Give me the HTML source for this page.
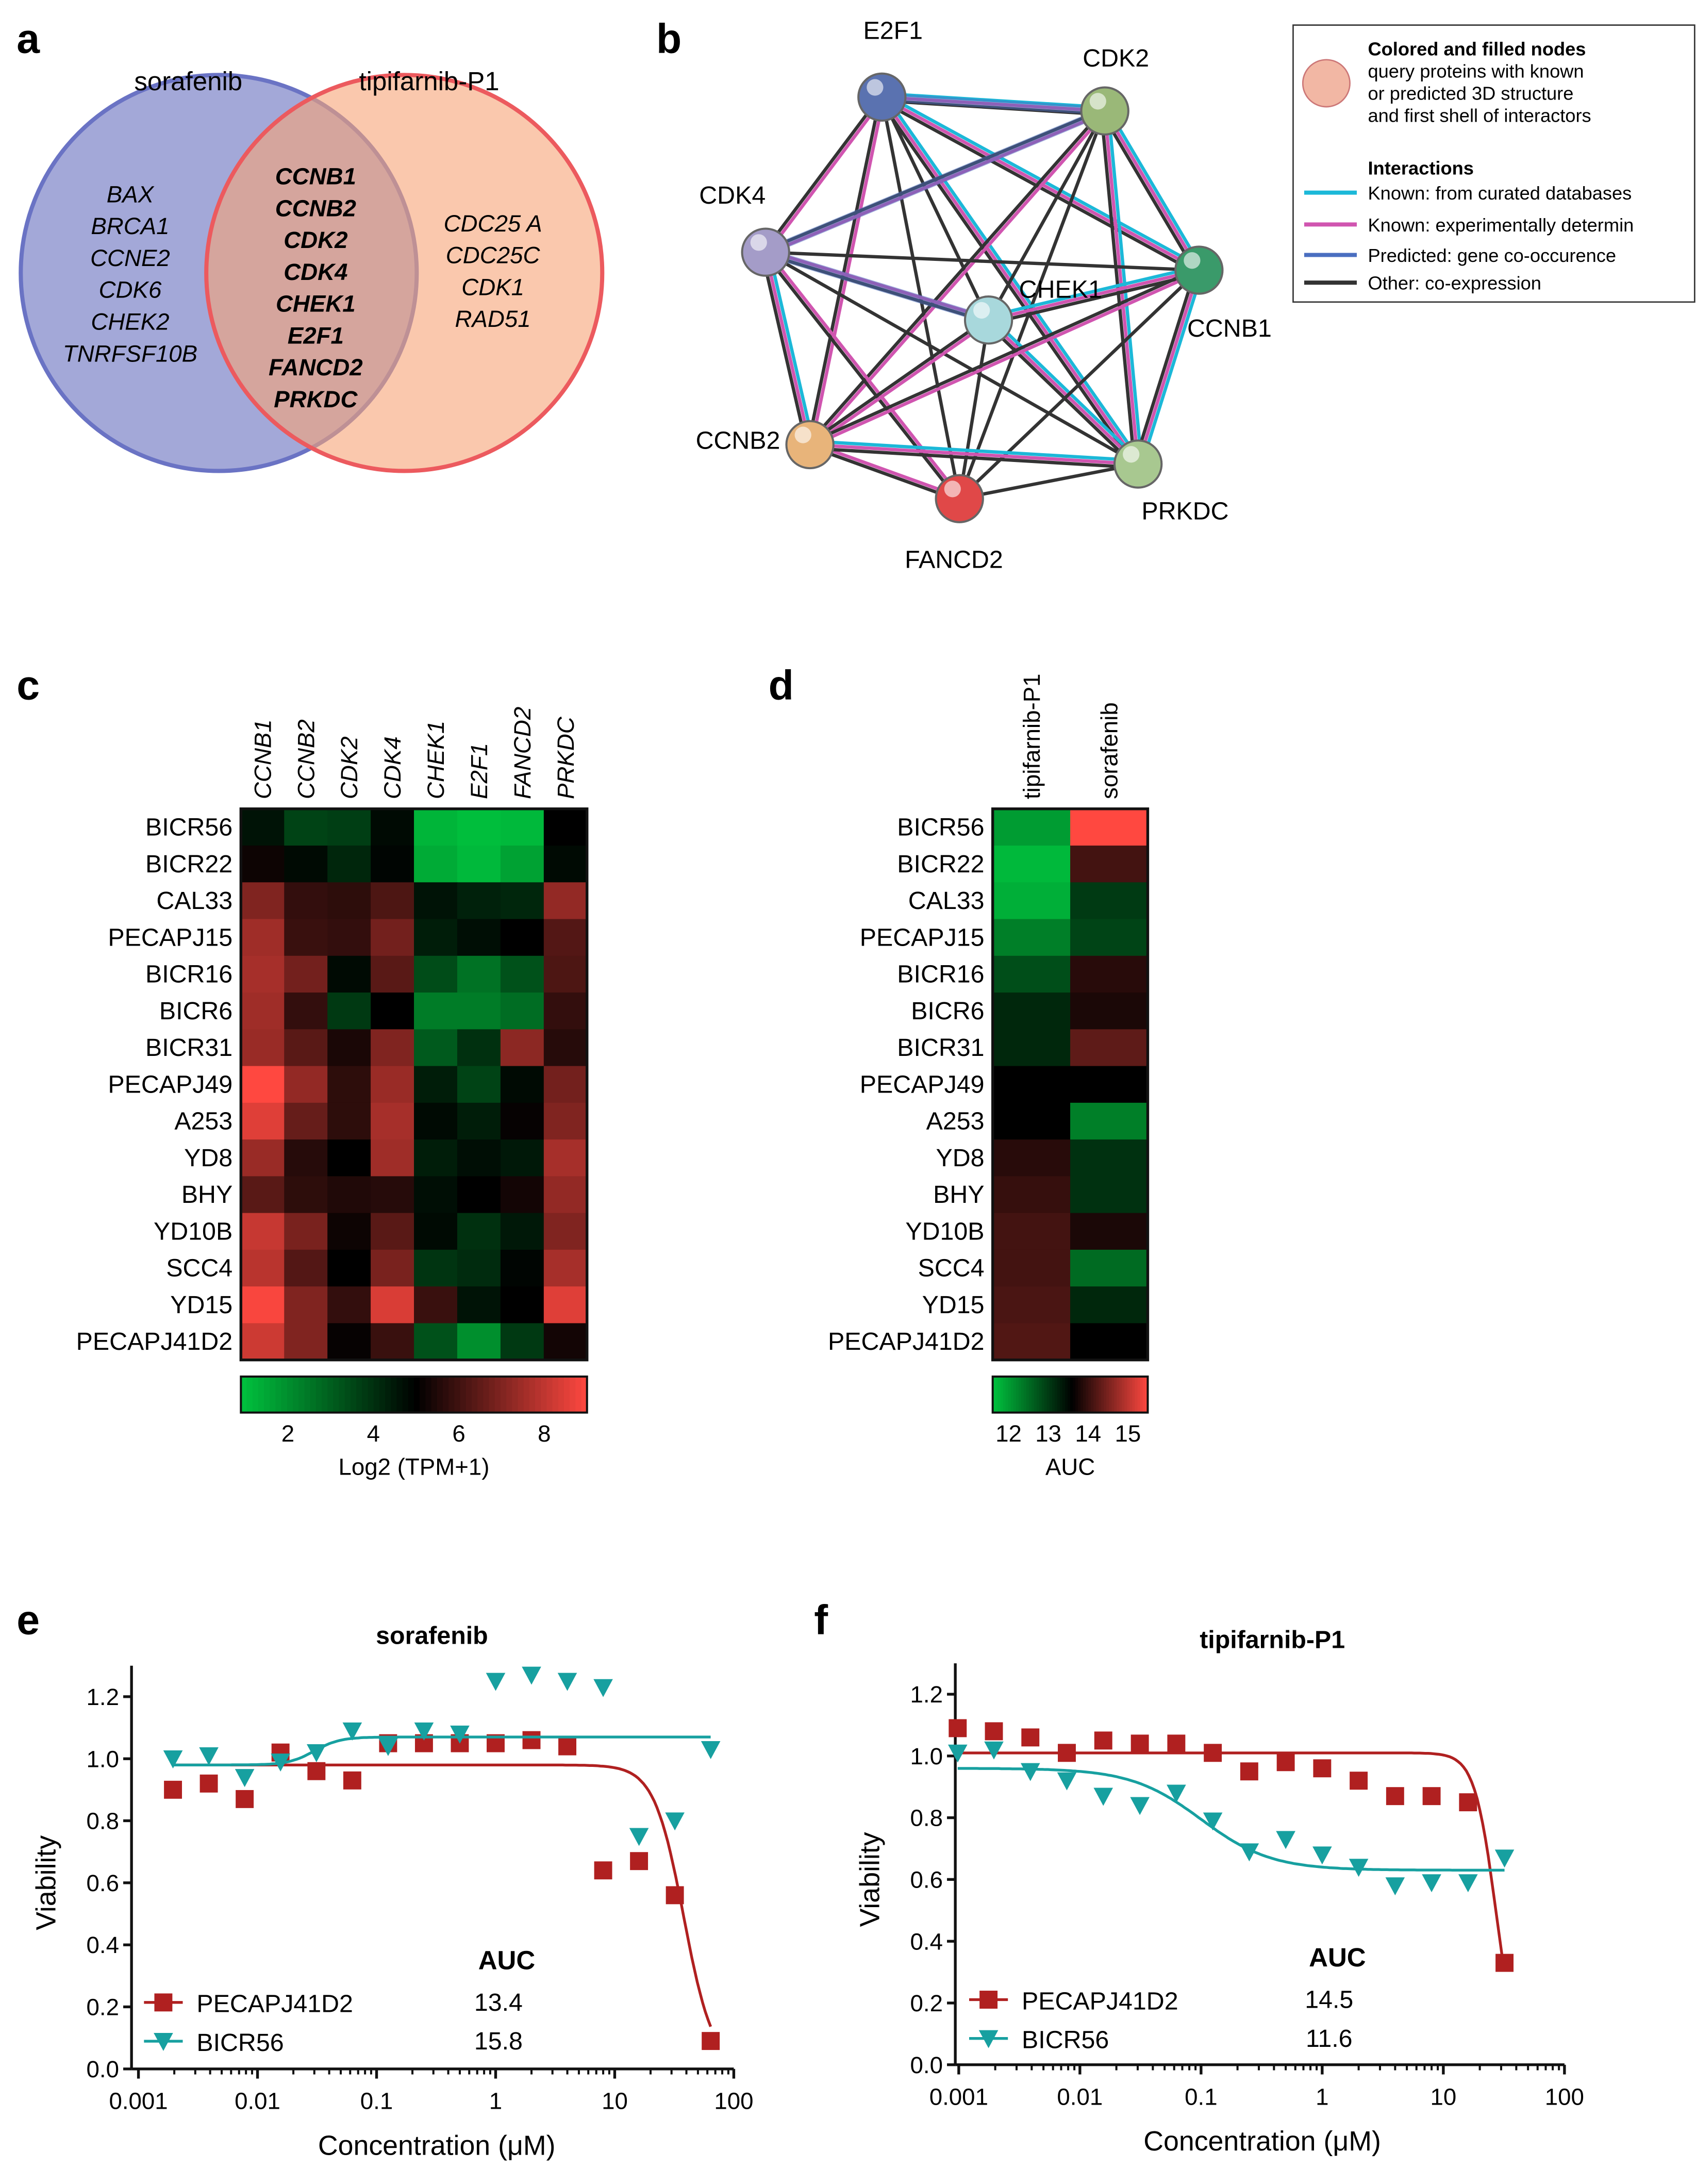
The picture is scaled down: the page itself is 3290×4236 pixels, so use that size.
<!DOCTYPE html>
<html><head><meta charset="utf-8"><style>
html,body{margin:0;padding:0;background:#fff;}
svg{display:block;font-family:"Liberation Sans",sans-serif;}
</style></head><body>
<svg id="fig" xmlns="http://www.w3.org/2000/svg" width="3290" height="4236" viewBox="0 0 1225 1577">
<rect width="1225" height="1577" fill="#fff"/>
<g font-weight="bold" font-size="30">
<text x="12" y="38">a</text>
<text x="474" y="38">b</text>
<text x="12" y="505">c</text>
<text x="555" y="505">d</text>
<text x="12" y="1180">e</text>
<text x="588" y="1180">f</text>
</g>
<g>
<circle cx="158" cy="197" r="143" fill="#a3a8d8" stroke="#6a73c4" stroke-width="3"/>
<circle cx="292" cy="197" r="143" fill="#f7a477" fill-opacity="0.6" stroke="#ec5a5e" stroke-width="3"/>
<text x="136" y="65" font-size="19" text-anchor="middle">sorafenib</text>
<text x="310" y="65" font-size="19" text-anchor="middle">tipifarnib-P1</text>
<g font-size="17" font-style="italic" text-anchor="middle">
<text x="94" y="146">BAX</text><text x="94" y="169">BRCA1</text><text x="94" y="192">CCNE2</text><text x="94" y="215">CDK6</text><text x="94" y="238">CHEK2</text><text x="94" y="261">TNRFSF10B</text></g>
<g font-size="17" font-style="italic" font-weight="bold" text-anchor="middle">
<text x="228" y="133">CCNB1</text><text x="228" y="156">CCNB2</text><text x="228" y="179">CDK2</text><text x="228" y="202">CDK4</text><text x="228" y="225">CHEK1</text><text x="228" y="248">E2F1</text><text x="228" y="271">FANCD2</text><text x="228" y="294">PRKDC</text></g>
<g font-size="17" font-style="italic" text-anchor="middle">
<text x="356" y="167">CDC25 A</text><text x="356" y="190">CDC25C</text><text x="356" y="213">CDK1</text><text x="356" y="236">RAD51</text></g>
</g>
<g id="net"></g>
<g>
<rect x="934" y="18" width="290" height="200" fill="#fff" stroke="#333" stroke-width="1"/>
<circle cx="958" cy="60" r="17" fill="#f2b7a4" stroke="#c77" stroke-width="1"/>
<text x="988" y="40" font-size="13.5" font-weight="bold">Colored and filled nodes</text>
<text x="988" y="56" font-size="13.5">query proteins with known</text>
<text x="988" y="72" font-size="13.5">or predicted 3D structure</text>
<text x="988" y="88" font-size="13.5">and first shell of interactors</text>
<text x="988" y="126" font-size="13.5" font-weight="bold">Interactions</text>
<line x1="942" y1="139" x2="980" y2="139" stroke="#1cb8d8" stroke-width="3"/><text x="988" y="144" font-size="13.5">Known: from curated databases</text>
<line x1="942" y1="162" x2="980" y2="162" stroke="#d055b0" stroke-width="3"/><text x="988" y="167" font-size="13.5">Known: experimentally determin</text>
<line x1="942" y1="184" x2="980" y2="184" stroke="#4a6ec0" stroke-width="3"/><text x="988" y="189" font-size="13.5">Predicted: gene co-occurence</text>
<line x1="942" y1="204" x2="980" y2="204" stroke="#333" stroke-width="3"/><text x="988" y="209" font-size="13.5">Other: co-expression</text>
</g>
<g id="hmc"></g>
<g id="hmd"></g>
<g id="pe"></g>
<g id="pf"></g>
</svg>
<script>
const NS="http://www.w3.org/2000/svg";
function mk(parent,tag,attrs,txt){const e=document.createElementNS(NS,tag);for(const k in attrs)e.setAttribute(k,attrs[k]);if(txt!==undefined)e.textContent=txt;parent.appendChild(e);return e;}

const nodeNames=["E2F1","CDK2","CDK4","CHEK1","CCNB1","CCNB2","FANCD2","PRKDC"];
const nodeX=[637,798,553,714,866,585,693,822];
const nodeY=[70,80,182,231,195,321,360,335];
const nodeColors=["#5a72b0","#9ab878","#a49cc8","#a8d8dc","#3a9a6a","#e8b47a","#e04848","#a8c890"];
const labelDX=[8,8,-24,52,22,-52,-4,34];
const labelDY=[-42,-32,-35,-16,48,3,50,40];
const net=document.getElementById('net');
const pairs=[[0,1],[0,2],[0,3],[0,4],[0,5],[0,6],[0,7],[1,2],[1,3],[1,4],[1,5],[1,6],[1,7],[2,3],[2,4],[2,5],[2,6],[2,7],[3,4],[3,5],[3,6],[3,7],[4,5],[4,6],[4,7],[5,6],[6,7],[5,7]];
pairs.forEach((p,i)=>{const a=p[0],b=p[1];const dx=nodeX[b]-nodeX[a],dy=nodeY[b]-nodeY[a];const L=Math.hypot(dx,dy);const nx=-dy/L,ny=dx/L;
 const cols= i%3===0?["#1cb8d8","#d055b0","#333"]:(i%3===1?["#d055b0","#333"]:["#333"]);
 cols.forEach((c,j)=>{const o=(j-(cols.length-1)/2)*2.6;
  const l=mk(net,'line',{x1:nodeX[a]+nx*o,y1:nodeY[a]+ny*o,x2:nodeX[b]+nx*o,y2:nodeY[b]+ny*o,stroke:c,'stroke-width':2.4});
  
  });
});
[[1,2],[2,3],[0,1]].forEach(p=>{const l=mk(net,'line',{x1:nodeX[p[0]],y1:nodeY[p[0]],x2:nodeX[p[1]],y2:nodeY[p[1]],stroke:'#4a6ec0','stroke-width':6,'stroke-opacity':0.5});
 
 });
nodeNames.forEach((n,i)=>{const c=mk(net,'circle',{cx:nodeX[i],cy:nodeY[i],r:17,fill:nodeColors[i],stroke:'#666','stroke-width':1.5});
 
 
 mk(net,'circle',{cx:nodeX[i]-5,cy:nodeY[i]-7,r:6,fill:'#fff','fill-opacity':0.6});
 const t=mk(net,'text',{x:nodeX[i]+labelDX[i],y:nodeY[i]+labelDY[i],'font-size':18,'text-anchor':'middle'},n);
 
 });

const cellLines=["BICR56","BICR22","CAL33","PECAPJ15","BICR16","BICR6","BICR31","PECAPJ49","A253","YD8","BHY","YD10B","SCC4","YD15","PECAPJ41D2"];
const genes=["CCNB1","CCNB2","CDK2","CDK4","CHEK1","E2F1","FANCD2","PRKDC"];
const expr=[
[4.6,3.6,3.7,4.8,1.2,1.0,1.1,5.0],
[5.2,4.8,4.2,4.9,1.4,1.1,1.6,4.8],
[7.0,5.8,5.7,6.2,4.6,4.3,4.2,7.3],
[7.5,5.9,5.8,6.8,4.4,4.7,5.0,6.3],
[7.6,6.8,4.8,6.4,3.4,2.6,3.3,6.2],
[7.5,5.8,3.8,5.0,2.4,2.4,2.7,5.8],
[7.4,6.4,5.4,7.0,3.1,4.0,7.2,5.6],
[9.0,7.3,5.7,7.4,4.4,3.6,4.8,6.8],
[8.5,6.6,5.7,7.6,4.8,4.4,5.1,7.0],
[7.4,5.6,5.0,7.5,4.4,4.7,4.5,7.6],
[6.4,5.7,5.5,5.6,4.7,5.0,5.3,7.3],
[8.1,6.9,5.2,6.4,4.8,4.0,4.5,7.0],
[7.9,6.3,5.0,6.9,3.9,4.1,4.9,7.6],
[8.9,7.0,5.8,8.4,5.9,4.6,5.0,8.5],
[8.2,7.0,5.1,5.9,3.3,2.0,3.8,5.3]];
const exprTicks=[2,4,6,8];
const drugs=["tipifarnib-P1","sorafenib"];
const aucTip=[12.0,11.7,11.8,12.3,12.8,13.2,13.2,13.6,13.6,13.9,14.0,14.1,14.1,14.15,14.2];
const aucSor=[15.5,14.1,13.0,12.9,13.9,13.8,14.3,13.6,12.3,13.1,13.1,13.8,12.5,13.2,13.6];
const aucTicks=[12,13,14,15];

function cmap(t){
 t=Math.max(-1,Math.min(1,t));
 if(t<0){const s=-t;return `rgb(0,${Math.round(195*s)},${Math.round(62*s)})`;}
 return `rgb(${Math.round(255*t)},${Math.round(72*t)},${Math.round(64*t)})`;
}
function heat(g,rows,cols,vals,x0,x1,y0,y1,vmin,vmid,vmax,ticks,barY,unit,prefix){
 const cw=(x1-x0)/cols.length,rh=(y1-y0)/rows.length;
 const tf=v=>v<vmid?(v-vmid)/(vmid-vmin):(v-vmid)/(vmax-vmid);
 rows.forEach((r,i)=>{
  const t=mk(g,'text',{x:x0-6,y:y0+rh*(i+0.5)+6,'font-size':18,'text-anchor':'end'},r);
  
  
  cols.forEach((c,j)=>{const rc=mk(g,'rect',{x:x0+j*cw,y:y0+i*rh,width:cw+0.3,height:rh+0.3,fill:cmap(tf(vals(i,j)))});
   
   });
 });
 cols.forEach((c,j)=>{const cx=x0+cw*(j+0.5)+6;const t=mk(g,'text',{x:cx,y:y0-7,'font-size':17,'font-style':prefix==='c'?'italic':'normal',transform:`rotate(-90 ${cx} ${y0-7})`},c);
  
  });
 mk(g,'rect',{x:x0,y:y0,width:x1-x0,height:y1-y0,fill:'none',stroke:'#111','stroke-width':2});
 const n=60,bw=(x1-x0)/n;
 for(let k=0;k<n;k++){const v=vmin+(vmax-vmin)*(k+0.5)/n;mk(g,'rect',{x:x0+k*bw,y:barY,width:bw+0.3,height:26,fill:cmap(tf(v))});}
 const cb=mk(g,'rect',{x:x0,y:barY,width:x1-x0,height:26,fill:'none',stroke:'#111','stroke-width':1.5});
 
 
 ticks.forEach(tk=>{const x=x0+(tk-vmin)/(vmax-vmin)*(x1-x0);
  const t=mk(g,'text',{x:x,y:barY+47,'font-size':17,'text-anchor':'middle'},String(tk));
  
  });
 const u=mk(g,'text',{x:(x0+x1)/2,y:barY+71,'font-size':17,'text-anchor':'middle'},unit);
 
 
}
heat(document.getElementById('hmc'),cellLines,genes,(i,j)=>expr[i][j],174,424,584,982,0.9,5,9,exprTicks,994,"Log2 (TPM+1)",'c');
heat(document.getElementById('hmd'),cellLines,drugs,(i,j)=>j===0?aucTip[i]:aucSor[i],717,829,584,982,11.6,13.6,15.5,aucTicks,994,"AUC",'d');

const concE=[0.00195,0.0039,0.0078,0.0156,0.03125,0.0625,0.125,0.25,0.5,1,2,4,8,16,32,64];
const sorPECAPJ=[0.90,0.92,0.87,1.02,0.96,0.93,1.05,1.05,1.05,1.05,1.06,1.04,0.64,0.67,0.56,0.09];
const sorBICR56=[1.00,1.01,0.94,0.99,1.02,1.09,1.04,1.09,1.08,1.25,1.27,1.25,1.23,0.75,0.80,1.03];
const concF=[0.00098,0.00195,0.0039,0.0078,0.0156,0.03125,0.0625,0.125,0.25,0.5,1,2,4,8,16,32];
const tipPECAPJ=[1.09,1.08,1.06,1.01,1.05,1.04,1.04,1.01,0.95,0.98,0.96,0.92,0.87,0.87,0.85,0.33];
const tipBICR56=[1.01,1.02,0.95,0.92,0.87,0.84,0.88,0.79,0.69,0.73,0.68,0.64,0.58,0.59,0.59,0.67];
const xTicks=["0.001","0.01","0.1","1","10","100"];
const yTicks=["0.0","0.2","0.4","0.6","0.8","1.0","1.2"];
const aucE=["13.4","15.8"];const aucF=["14.5","11.6"];
const fitSorP=[0,0.98,38,3.5], fitSorB=[1.07,0.98,0.03,4];
const fitTipP=[0,1.01,27,5], fitTipB=[0.63,0.96,0.1,1.5];

function plot(g,o){
 const X=c=>o.x1+o.dec*Math.log10(c), Y=v=>o.y0-o.ppu*v;
 mk(g,'line',{x1:o.ax,y1:Y(1.3),x2:o.ax,y2:Y(0),stroke:'#111','stroke-width':2});
 mk(g,'line',{x1:o.ax,y1:Y(0),x2:X(100),y2:Y(0),stroke:'#111','stroke-width':2});
 yTicks.forEach(t=>{const y=Y(parseFloat(t));mk(g,'line',{x1:o.ax-6,y1:y,x2:o.ax,y2:y,stroke:'#111','stroke-width':2});
  const e=mk(g,'text',{x:o.ax-9,y:y+6,'font-size':17,'text-anchor':'end'},t);
  
  });
 xTicks.forEach(t=>{const x=X(parseFloat(t));mk(g,'line',{x1:x,y1:Y(0),x2:x,y2:Y(0)+7,stroke:'#111','stroke-width':2});
  for(let k=2;k<10&&t!=="100";k++){const xm=X(parseFloat(t)*k);mk(g,'line',{x1:xm,y1:Y(0),x2:xm,y2:Y(0)+4,stroke:'#111','stroke-width':1.5});}
  const e=mk(g,'text',{x:x,y:Y(0)+29,'font-size':17,'text-anchor':'middle'},t);
  
  });
 const yt=mk(g,'text',{x:o.ax-55,y:Y(0.6),'font-size':20,'text-anchor':'middle',transform:`rotate(-90 ${o.ax-55} ${Y(0.6)})`},"Viability");
 
 
 const xt=mk(g,'text',{x:X(0.32),y:Y(0)+62,'font-size':20,'text-anchor':'middle'},"Concentration (μM)");
 
 
 const tt=mk(g,'text',{x:o.titleX,y:o.titleY,'font-size':18,'font-weight':'bold','text-anchor':'middle'},o.title);
 
 
 const series=[{c:o.conc,v:o.red,fit:o.fitR,col:'#b02020',m:'sq'},{c:o.conc,v:o.teal,fit:o.fitT,col:'#17a0a0',m:'tri'}];
 series.forEach(s=>{
  let d='';const lo=Math.log10(s.c[0]),hi=Math.log10(s.c[s.c.length-1]);
  for(let k=0;k<=200;k++){const lx=lo+(hi-lo)*k/200;const f=s.fit;const y=f[0]+(f[1]-f[0])/(1+Math.pow(10,f[3]*(lx-Math.log10(f[2]))));d+=(k?'L':'M')+(o.x1+o.dec*lx).toFixed(1)+','+Y(y).toFixed(1);}
  const p=mk(g,'path',{d:d,fill:'none',stroke:s.col,'stroke-width':2});
  
  
  s.c.forEach((c,i)=>{const x=X(c),y=Y(s.v[i]);let e;
   if(s.m==='sq')e=mk(g,'rect',{x:x-6.5,y:y-6.5,width:13,height:13,fill:s.col});
   else e=mk(g,'path',{d:`M${x-7},${y-6}L${x+7},${y-6}L${x},${y+7}Z`,fill:s.col});
   
   });
 });
 const lx=o.legX,ly=o.legY;
 mk(g,'line',{x1:lx-14,y1:ly,x2:lx+14,y2:ly,stroke:'#b02020','stroke-width':2});
 mk(g,'rect',{x:lx-6.5,y:ly-6.5,width:13,height:13,fill:'#b02020'});
 mk(g,'line',{x1:lx-14,y1:ly+28,x2:lx+14,y2:ly+28,stroke:'#17a0a0','stroke-width':2});
 mk(g,'path',{d:`M${lx-7},${ly+22}L${lx+7},${ly+22}L${lx},${ly+35}Z`,fill:'#17a0a0'});
 const l1=mk(g,'text',{x:lx+24,y:ly+7,'font-size':18},o.nR);
 
 
 const l2=mk(g,'text',{x:lx+24,y:ly+35,'font-size':18},o.nT);
 
 
 const a=mk(g,'text',{x:o.aucX,y:ly-24,'font-size':19,'font-weight':'bold','text-anchor':'middle'},"AUC");
 
 
 o.auc.forEach((v,i)=>{const t=mk(g,'text',{x:o.aucX-6,y:ly+6+i*28,'font-size':18,'text-anchor':'middle'},v);
  
  });
}
plot(document.getElementById('pe'),{x1:358,dec:86,y0:1494,ppu:224,ax:95,title:"sorafenib",titleX:312,titleY:1187,conc:concE,red:sorPECAPJ,teal:sorBICR56,fitR:fitSorP,fitT:fitSorB,nR:"PECAPJ41D2",nT:"BICR56",legX:118,legY:1446,aucX:366,auc:aucE});
plot(document.getElementById('pf'),{x1:955,dec:87.5,y0:1491,ppu:223,ax:690,title:"tipifarnib-P1",titleX:919,titleY:1190,conc:concF,red:tipPECAPJ,teal:tipBICR56,fitR:fitTipP,fitT:fitTipB,nR:"PECAPJ41D2",nT:"BICR56",legX:714,legY:1444,aucX:966,auc:aucF});
</script>
</body></html>
